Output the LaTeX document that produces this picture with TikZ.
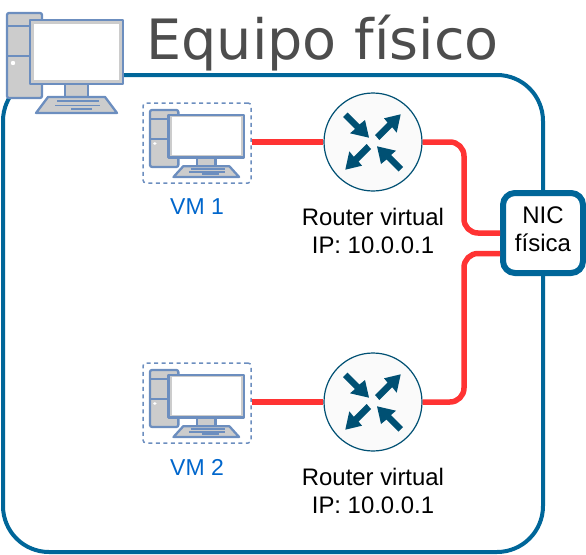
\documentclass[tikz,border=0pt]{standalone}
\usepackage{fontspec}
\setmainfont{Liberation Sans}
\newfontfamily\titlefont{DejaVu Sans}
\definecolor{frameblue}{HTML}{006699}
\definecolor{pcline}{HTML}{6C8EBF}
\definecolor{pcfill}{HTML}{CCCCCC}
\definecolor{arrowblue}{HTML}{005073}
\definecolor{linkred}{HTML}{FF3333}
\definecolor{vmblue}{HTML}{0066CC}
\definecolor{titlegrey}{HTML}{4D4D4D}
\definecolor{routerfill}{HTML}{FAFAFA}
\tikzset{
  pcpart/.style={draw=pcline,fill=pcfill,line width=2.3pt,line join=round},
  pckey/.style={draw=pcline,line width=1.7pt},
  link/.style={draw=linkred,line width=5.5pt,rounded corners=14pt},
  rarrow/.style={fill=arrowblue,draw=none},
  routernode/.style={circle,draw=arrowblue,fill=routerfill,line width=1.2pt,minimum size=98pt,inner sep=0pt},
  vmbox/.style={draw=pcline,line width=1.5pt,dash pattern=on 4pt off 3.5pt,rounded corners=3pt,minimum width=108pt,minimum height=80pt,inner sep=0pt},
  niclabel/.style={draw=frameblue,fill=white,line width=6pt,rounded corners=12pt,minimum width=80pt,minimum height=80pt,inner sep=0pt,align=center},
  nictext/.style={align=center,font=\fontsize{24}{28}\selectfont},
  caption/.style={align=center,font=\fontsize{23.9}{28}\selectfont},
  vmlabel/.style={text=vmblue,font=\fontsize{23}{27}\selectfont},
  pc/.pic={
    \draw[pcpart,rounded corners=2pt] (0,0) rectangle (35,85);
    \draw[pcpart,fill=none] (0,13) -- (35,13) (0,43) -- (35,43);
    \fill[white] (6,50) circle (2.2);
    \draw[pcpart] (58,71) rectangle (81,84);
    \draw[pcpart] (41,84) -- (98,84) -- (110,100) -- (29,100) -- cycle;
    \draw[pckey] (50,88) -- (92,88) (48,92.5) -- (93,92.5) (64,96) -- (85,96);
    \draw[pcpart] (23,7) rectangle (116,71);
    \fill[white] (27,11) rectangle (112,67);
  },
  rarrows/.pic={
    \foreach \r in {0,180}{
      \begin{scope}[rotate=\r]
        \fill[rarrow] (-30,-25) -- (-25.5,-29.5) -- (-13.5,-17.5) -- (-8,-22) -- (-4,-4.3) -- (-23,-8.7) -- (-18,-13) -- cycle;
        \fill[rarrow] (2,-7) -- (14.5,-19.5) -- (11,-23.7) -- (27.7,-27.7) -- (23.7,-9.3) -- (19.15,-14.85) -- (6.3,-2) -- cycle;
      \end{scope}
    }
  }
}
\begin{document}
\begin{tikzpicture}[x=1pt,y=-1pt]
\useasboundingbox (0,0) rectangle (586,554);
\node[draw=frameblue,line width=4pt,rounded corners=46pt,minimum width=540pt,minimum height=477pt,inner sep=0pt] (frame) at (273,313.5) {};
\pic at (7,13) {pc};
\node[text=titlegrey,font=\titlefont\fontsize{55.6}{60}\selectfont,anchor=base] (title) at (322.5,59) {Equipo físico};

\node[vmbox] (vm1) at (197,143) {};
\node[vmbox] (vm2) at (197,403) {};
\pic[xscale=0.81,yscale=0.67] at (150,110) {pc};
\pic[xscale=0.81,yscale=0.67] at (150,370) {pc};
\node[vmlabel] (vm1t) at (197,207) {VM 1};
\node[vmlabel] (vm2t) at (197,467) {VM 2};

\node[routernode] (r1) at (373,142) {};
\node[routernode] (r2) at (373,402) {};
\pic at (373,142) {rarrows};
\pic at (373,402) {rarrows};
\node[caption] (r1t) at (373,231) {Router virtual\\IP: 10.0.0.1};
\node[caption] (r2t) at (373,491) {Router virtual\\IP: 10.0.0.1};

\node[niclabel] (nic) at (543,233) {};
\node[nictext] (nict) at (543,229) {NIC\\física};
\coordinate (nicA) at (nic.west);
\coordinate (nicB) at ([yshift=-20.5pt]nic.west);

\draw[link] (vm1.east |- r1.west) -- (r1.west);
\draw[link] (vm2.east |- r2.west) -- (r2.west);
\draw[link] (r1.east) -- (464,142) -- (464,233) -- (nicA);
\draw[link] (r2.east) -- (464,402) -- (464,253.5) -- (nicB);
\end{tikzpicture}
\end{document}
